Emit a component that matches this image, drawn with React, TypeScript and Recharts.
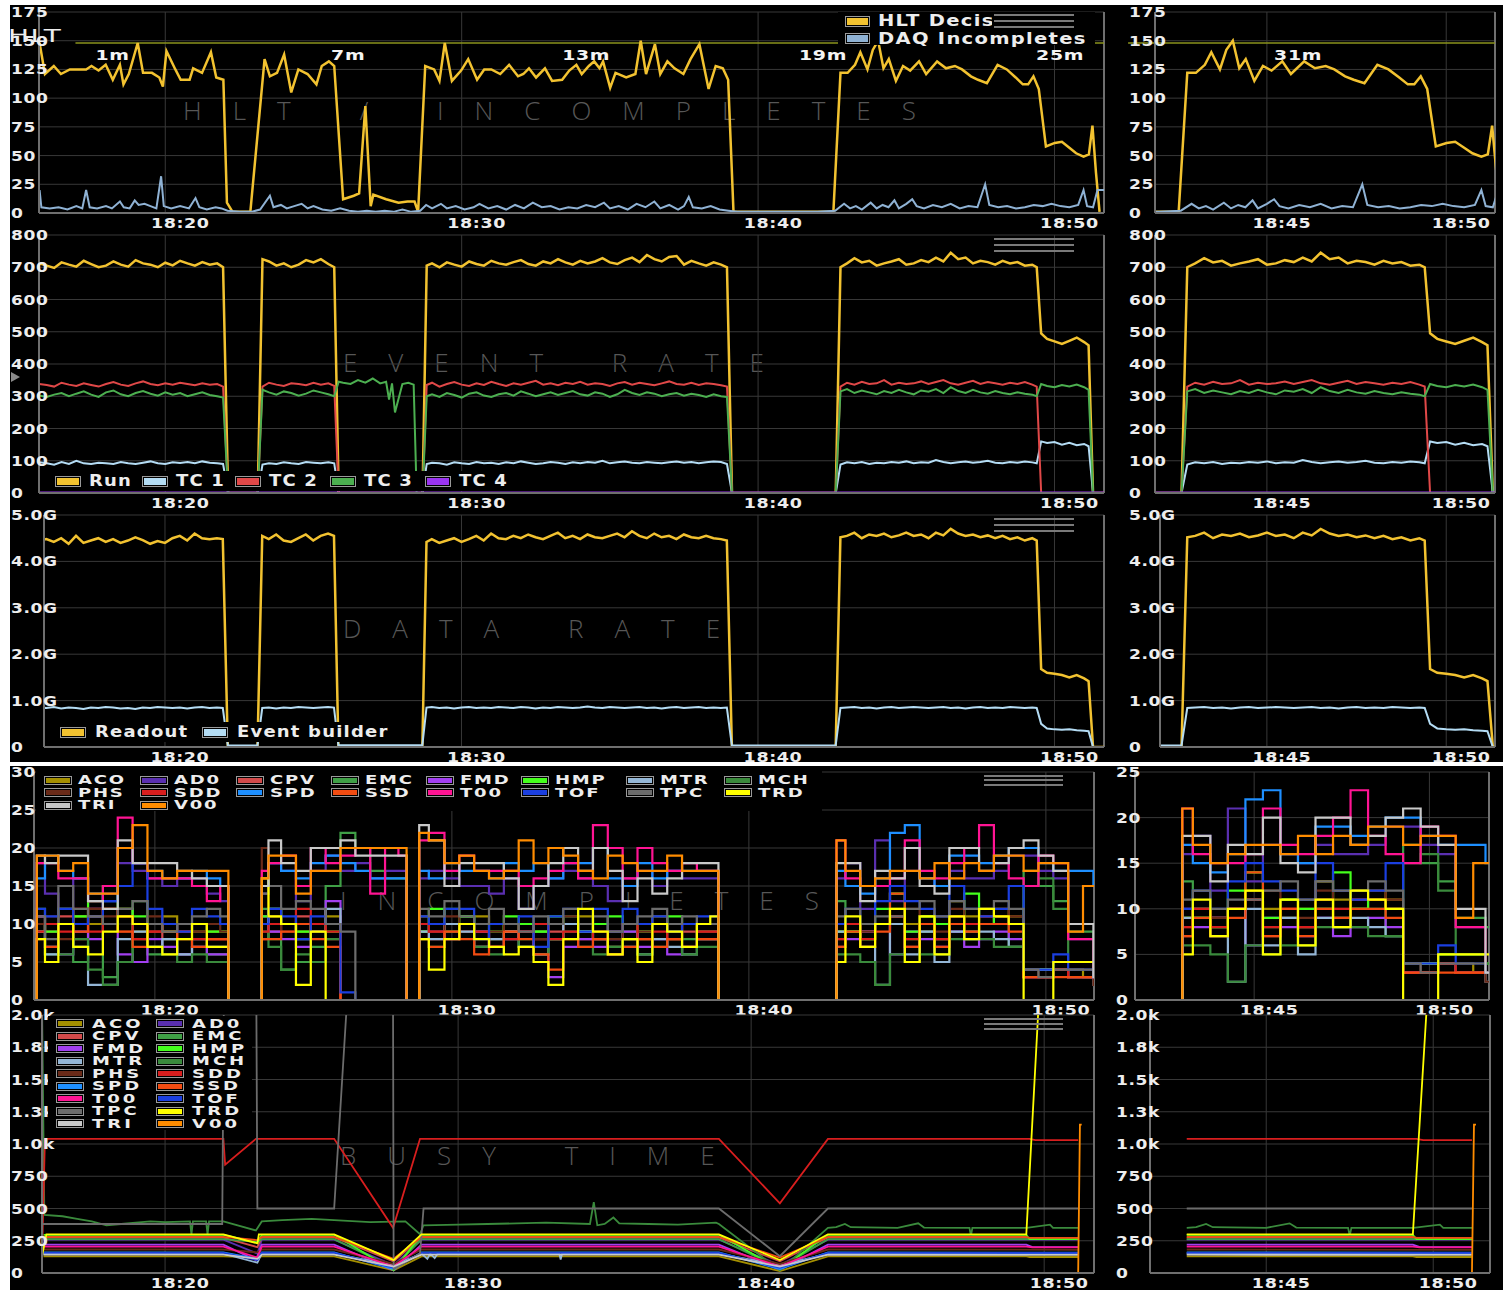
import React from 'react';
import { LineChart, Line, XAxis, YAxis, CartesianGrid, ReferenceLine, ReferenceDot } from 'recharts';

const FONT = '"DejaVu Sans", Verdana, sans-serif';
const TXT = '#ededed';
const GRID = '#383838';
const AXIS = '#6f6f6f';

// ---------------- axis ticks ----------------
const LEFT_TIME_TICKS = [20, 30, 40, 50];
const RIGHT_TIME_TICKS = [45, 50];
const HLT_Y_TICKS = [0, 25, 50, 75, 100, 125, 150, 175];
const EVENT_Y_TICKS = [0, 100, 200, 300, 400, 500, 600, 700, 800];
const DATA_Y_TICKS = [0, 1, 2, 3, 4, 5];
const INC_Y_TICKS_LEFT = [0, 5, 10, 15, 20, 25, 30];
const INC_Y_TICKS_RIGHT = [0, 5, 10, 15, 20, 25];
const BUSY_Y_TICKS = [0, 250, 500, 750, 1000, 1250, 1500, 1750, 2000];
const HLT_THRESHOLD = 148;
const BUSY_RIGHT_START = 42.62;

// ---------------- row 1 : HLT / incompletes (minutes after 18:00, value) ----------------
const HLT_PTS: [number, number][] = [[15.76,148],[15.94,121],[16.24,128],[16.48,121],[16.78,125],[17.33,125],[17.51,128],[17.75,124],[17.99,129],[18.23,116],[18.47,129],[18.59,112],[18.77,121],[19.07,148],[19.25,122],[19.55,122],[19.8,118],[19.92,110],[20.04,141],[20.34,125],[20.52,116],[20.82,116],[20.94,126],[21.24,122],[21.54,140],[21.72,118],[21.96,116],[22.08,9],[22.27,1],[22.87,1],[23.35,134],[23.53,119],[23.77,122],[24.01,138],[24.25,105],[24.49,125],[24.8,121],[25.1,112],[25.28,128],[25.52,132],[25.7,128],[26.0,12],[26.36,15],[26.54,17],[26.75,93],[26.93,6],[27.02,16],[27.45,12],[27.87,9],[28.17,10],[28.41,10],[28.53,1],[28.77,128],[29.07,125],[29.25,115],[29.43,148],[29.67,115],[29.98,124],[30.22,134],[30.52,116],[30.76,125],[31.0,125],[31.3,121],[31.6,129],[31.9,119],[32.08,121],[32.27,126],[32.51,118],[32.81,126],[33.05,115],[33.39,116],[33.63,124],[33.87,129],[34.05,121],[34.29,128],[34.47,132],[34.65,126],[34.77,132],[35.01,109],[35.19,122],[35.55,118],[35.86,121],[36.04,150],[36.22,121],[36.52,147],[36.7,121],[36.94,132],[37.18,126],[37.48,121],[37.72,134],[38.02,147],[38.33,108],[38.57,128],[38.81,126],[38.99,116],[39.17,1],[42.54,1],[42.78,122],[43.02,122],[43.27,129],[43.45,140],[43.69,125],[43.87,142],[44.05,150],[44.23,126],[44.41,134],[44.65,115],[44.89,128],[45.13,124],[45.43,132],[45.67,121],[46.04,132],[46.34,126],[46.64,128],[46.88,125],[47.18,119],[47.42,116],[47.72,113],[48.08,129],[48.39,125],[48.69,118],[48.93,112],[49.11,112],[49.29,119],[49.47,108],[49.71,58],[50.01,61],[50.25,62],[50.49,57],[50.73,52],[50.98,49],[51.16,51],[51.28,76],[51.4,35],[51.52,1]];
const DAQ_PTS: [number, number][] = [[15.76,20],[15.82,5],[16.1,4],[16.4,5],[16.7,3],[17.0,6],[17.2,4],[17.33,20],[17.45,5],[17.7,4],[18.0,6],[18.2,4],[18.47,10],[18.6,5],[18.8,4],[18.97,11],[19.1,7],[19.3,8],[19.5,6],[19.7,4],[19.86,32],[19.95,6],[20.2,4],[20.5,6],[20.8,4],[21.02,13],[21.15,5],[21.4,3],[21.7,5],[21.9,4],[22.1,2],[22.5,1],[22.9,1],[23.2,3],[23.53,15],[23.65,5],[23.9,7],[24.1,4],[24.35,6],[24.6,8],[24.8,4],[25.0,6],[25.3,3],[25.6,2],[25.9,4],[26.2,2],[26.5,1],[26.8,2],[27.1,1],[27.4,2],[27.7,1],[28.0,3],[28.3,1],[28.6,2],[28.8,7],[29.0,4],[29.3,8],[29.5,4],[29.8,6],[30.1,3],[30.4,5],[30.6,8],[30.9,4],[31.2,6],[31.5,3],[31.8,7],[32.1,4],[32.4,9],[32.7,5],[33.0,6],[33.3,3],[33.6,5],[33.9,4],[34.2,7],[34.5,5],[34.8,9],[35.0,4],[35.3,6],[35.6,3],[35.9,8],[36.2,5],[36.5,10],[36.7,4],[37.0,7],[37.3,3],[37.5,6],[37.66,14],[37.8,5],[38.1,4],[38.4,6],[38.7,3],[39.0,2],[39.3,1],[40.0,1],[41.0,1],[42.0,1],[42.6,2],[42.9,8],[43.1,4],[43.3,6],[43.5,3],[43.8,9],[44.0,4],[44.2,7],[44.4,5],[44.6,11],[44.75,4],[45.0,8],[45.2,12],[45.35,6],[45.6,4],[45.9,7],[46.2,5],[46.5,8],[46.8,4],[47.1,6],[47.4,5],[47.66,25],[47.8,7],[48.1,5],[48.4,6],[48.7,4],[49.0,5],[49.3,7],[49.6,6],[49.9,8],[50.2,6],[50.5,5],[50.8,7],[50.98,20],[51.1,6],[51.3,5],[51.45,20],[51.7,20]];
const HLT_MARKS_LEFT_T = [18.22, 26.17, 34.2, 42.19, 50.19];
const HLT_MARKS_LEFT_TEXT = ['1m', '7m', '13m', '19m', '25m'];
const HLT_MARKS_RIGHT_T = [45.87];
const HLT_MARKS_RIGHT_TEXT = ['31m'];
const HLT_MARK_LEVEL = 137;

// ---------------- rows 2 & 3 : event rate / data rate ----------------
const EV_T_A = [15.75,16,16.25,16.5,16.75,17,17.25,17.5,17.75,18,18.25,18.5,18.75,19,19.25,19.5,19.75,20,20.25,20.5,20.75,21,21.25,21.5,21.75,21.95];
const EV_T_G1 = [22.12, 23.12];
const EV_T_B = [23.28,23.5,23.75,24,24.25,24.5,24.75,25,25.25,25.5,25.7];
const EV_T_C = [25.85,26,26.25,26.5,26.75,27,27.25,27.45,27.55,27.65,27.75,28,28.2,28.38];
const EV_T_G2 = [28.48, 28.68];
const EV_T_D = [28.82,29,29.25,29.5,29.75,30,30.25,30.5,30.75,31,31.25,31.5,31.75,32,32.25,32.5,32.75,33,33.25,33.5,33.75,34,34.25,34.5,34.75,35,35.25,35.5,35.75,36,36.25,36.5,36.75,37,37.25,37.5,37.75,38,38.25,38.5,38.75,38.95];
const EV_T_G3 = [39.12, 42.62];
const EV_T_E = [42.78,43,43.25,43.5,43.75,44,44.25,44.5,44.75,45,45.25,45.5,45.75,46,46.25,46.5,46.75,47,47.25,47.5,47.75,48,48.25,48.5,48.75,49,49.25,49.4];
const EV_T_F = [49.55,49.75,50,50.25,50.5,50.75,51,51.15];
const EV_T_G4 = [51.3, 51.67];

const GAP_ZERO = [0, 0];
const ZERO_C = [0,0,0,0,0,0,0,0,0,0,0,0,0,0];
const ZERO_F = [0,0,0,0,0,0,0,0];

const RUN_A = [712,705,698,715,708,702,720,710,700,705,718,708,702,722,712,708,700,714,706,720,712,705,716,708,712,700];
const RUN_B = [725,718,705,712,700,708,722,715,725,710,700];
const RUN_D = [705,712,700,715,708,702,718,710,705,720,712,708,716,722,710,705,718,712,725,715,708,720,712,718,728,715,710,722,730,716,738,725,718,732,735,708,720,712,705,715,708,700];
const RUN_E = [700,712,728,715,720,705,712,718,725,708,712,722,716,730,718,745,725,730,712,720,716,708,720,712,716,705,708,700];
const RUN_F = [495,478,470,462,472,482,468,458];

const TC1_A = [95,92,88,96,90,100,92,90,94,92,90,96,92,90,94,98,92,90,95,93,96,92,98,94,92,90];
const TC1_B = [88,92,90,95,92,90,96,94,92,95,92];
const TC1_D = [90,94,92,88,95,92,90,96,92,94,90,95,92,98,94,90,92,96,94,90,95,92,96,94,100,92,95,98,94,92,96,94,92,95,98,94,96,92,95,98,96,90];
const TC1_E = [88,95,92,96,90,94,92,96,94,98,92,95,94,102,96,92,95,98,94,96,100,94,92,96,94,98,95,92];
const TC1_F = [160,155,158,150,156,148,152,145];

const TC2_A = [338,335,330,342,336,332,340,335,330,338,344,336,332,340,346,338,334,340,336,342,338,334,340,336,338,330];
const TC2_B = [330,342,336,332,340,338,334,342,336,340,332];
const TC2_D = [335,342,330,338,344,336,332,340,335,345,338,332,340,336,342,348,336,340,334,342,338,345,336,340,338,332,340,344,336,342,338,334,340,346,338,336,342,335,340,338,334,330];
const TC2_E = [330,342,336,345,338,340,350,336,342,338,340,346,338,344,350,340,336,342,348,338,344,340,336,342,338,344,336,330];

const TC3_A = [302,298,305,310,300,308,315,305,298,312,318,306,300,310,316,308,302,312,305,310,300,306,312,304,300,296];
const TC3_B = [320,312,305,315,310,302,308,318,312,306,300];
const TC3_C = [345,342,338,350,342,355,340,345,290,340,250,338,342,336];
const TC3_D = [300,306,298,310,304,296,308,312,302,298,306,310,302,315,308,300,306,312,304,310,316,306,302,312,308,298,306,320,310,304,312,308,300,306,310,302,308,304,298,306,300,298];
const TC3_E = [315,322,310,318,312,306,316,310,320,312,306,318,314,322,310,328,316,310,320,312,308,316,310,306,312,308,305,300];
const TC3_F = [338,332,328,335,330,336,328,320];
const TC4_PTS: [number, number][] = [[15.5, 0], [51.8, 0]];

const RO_A = [4.45,4.48,4.42,4.5,4.38,4.55,4.4,4.45,4.5,4.42,4.48,4.4,4.45,4.52,4.46,4.38,4.44,4.4,4.5,4.55,4.45,4.6,4.5,4.48,4.5,4.48];
const RO_B = [4.55,4.48,4.58,4.45,4.42,4.5,4.58,4.45,4.55,4.6,4.55];
const RO_D = [4.42,4.48,4.4,4.45,4.5,4.42,4.48,4.55,4.45,4.6,4.5,4.48,4.55,4.5,4.58,4.52,4.48,4.55,4.62,4.5,4.55,4.48,4.58,4.52,4.5,4.55,4.6,4.52,4.65,4.55,4.5,4.6,4.52,4.55,4.48,4.58,4.52,4.5,4.55,4.5,4.48,4.45];
const RO_E = [4.52,4.55,4.62,4.5,4.58,4.55,4.6,4.52,4.56,4.62,4.55,4.58,4.5,4.62,4.56,4.7,4.6,4.55,4.58,4.52,4.56,4.5,4.55,4.48,4.52,4.45,4.5,4.45];
const RO_F = [1.68,1.6,1.58,1.55,1.5,1.55,1.48,1.42];

const EB_A = [0.85,0.84,0.86,0.83,0.85,0.84,0.82,0.85,0.84,0.86,0.85,0.83,0.84,0.82,0.85,0.84,0.86,0.85,0.84,0.85,0.83,0.85,0.86,0.84,0.85,0.84];
const EB_G1 = [0.03, 0.03];
const EB_B = [0.84,0.85,0.83,0.85,0.84,0.86,0.85,0.84,0.85,0.86,0.85];
const EB_C = [0.04,0.04,0.04,0.04,0.04,0.04,0.04,0.04,0.04,0.04,0.04,0.04,0.04,0.04];
const EB_G2 = [0.04, 0.04];
const EB_D = [0.85,0.86,0.84,0.85,0.83,0.85,0.86,0.84,0.85,0.84,0.86,0.85,0.84,0.86,0.85,0.83,0.85,0.84,0.86,0.85,0.84,0.85,0.87,0.85,0.84,0.86,0.85,0.84,0.85,0.86,0.84,0.85,0.83,0.85,0.86,0.84,0.85,0.86,0.84,0.85,0.84,0.85];
const EB_G3 = [0.03, 0.03];
const EB_E = [0.84,0.85,0.86,0.84,0.85,0.83,0.85,0.86,0.84,0.85,0.86,0.85,0.84,0.85,0.86,0.84,0.85,0.83,0.85,0.86,0.84,0.85,0.84,0.86,0.85,0.84,0.85,0.84];
const EB_F = [0.5,0.4,0.38,0.37,0.38,0.36,0.35,0.34];

// ---------------- detectors (rows 4 & 5) ----------------
const DET_NAMES = ['ACO','AD0','CPV','EMC','FMD','HMP','MTR','MCH','PHS','SDD','SPD','SSD','T00','TOF','TPC','TRD','TRI','V00'];
const DET_COLORS = ['#a48f00','#5a2fb0','#d24a4a','#3f9f46','#a23ff0','#44ff1c','#94b6d6','#3a8a3c','#6a2a18','#d81e1e','#1e8fff','#f24c12','#ff1493','#1b3fe0','#6c6c6c','#ffff00','#c9c9c9','#ff8c00'];

// row 4 : incompletes
const INC_T = [15.95, 16.1,16.5,17,17.5,18,18.5,19,19.5,20,20.5,21,21.5,22,22.4, 22.55,23.55, 23.65,24,24.5,25,25.5,26,26.5,27,27.5,28,28.4, 28.55,28.85, 28.95,29.5,30,30.5,31,31.5,32,32.5,33,33.5,34,34.5,35,35.5,36,36.5,37,37.5,38,38.5,38.9, 39.05,42.9, 43,43.5,44,44.5,45,45.5,46,46.5,47,47.5,48,48.5,49,49.5,50,50.5,51,51.5,51.7];
const INC_ACO = [0, 9,10,12,11,10,12,11,9,10,11,10,9,9,9, 0,0, 10,11,10,9,10,11,0,0,0,0,0, 0,0, 11,10,9,10,11,10,9,10,9,8,10,11,10,9,8,10,11,9,10,10,10, 0,0, 9,10,9,10,12,10,11,10,13,11,12,12,11,4,4,4,4,3,3];
const INC_AD0 = [0, 18,14,12,16,12,14,18,17,16,15,16,16,14,13, 0,0, 14,18,17,13,17,19,17,18,16,17,17, 0,0, 16,17,16,15,15,14,16,12,15,16,17,16,15,13,16,17,15,17,16,16,16, 0,0, 16,18,12,21,13,17,16,15,17,16,16,17,19,19,17,16,8,8,8];
const INC_CPV = [0, 11,9,11,8,12,10,12,10,9,8,9,10,8,8, 0,0, 8,9,10,11,9,8,0,0,0,0,0, 0,0, 9,8,10,9,7,8,9,10,8,9,10,8,9,7,8,9,10,8,9,8,8, 0,0, 7,9,9,10,11,7,9,8,10,9,10,11,10,3,3,4,3,3,3];
const INC_EMC = [0, 12,6,12,5,11,3,5,13,6,8,6,7,6,6, 0,0, 12,8,4,5,7,15,22,20,17,16,16, 0,0, 9,10,12,11,9,8,10,8,9,10,11,9,8,7,9,8,10,9,8,10,10, 0,0, 13,9,8,10,11,8,9,8,11,9,10,10,7,17,15,13,9,9,8];
const INC_FMD = [0, 11,7,6,9,8,10,6,5,8,7,6,7,6,6, 0,0, 11,9,8,7,9,13,0,0,0,0,0, 0,0, 10,9,8,10,9,7,8,9,6,3,7,8,7,8,9,7,8,6,7,9,9, 0,0, 10,8,9,10,6,9,8,7,9,7,8,9,8,3,3,4,3,3,3];
const INC_HMP = [0, 10,9,10,11,13,15,12,11,10,9,10,10,9,9, 0,0, 11,12,10,9,10,9,0,0,0,0,0, 0,0, 9,12,10,11,10,9,11,10,9,11,10,9,10,11,10,9,10,11,10,9,9, 0,0, 9,9,8,12,14,9,11,10,10,14,10,11,10,4,4,5,5,5,4];
const INC_MTR = [0, 9,6,10,7,2,2,8,9,7,8,6,8,7,7, 0,0, 10,12,10,8,9,12,0,0,0,0,0, 0,0, 9,8,10,9,7,8,9,7,6,8,10,9,8,6,7,6,8,7,6,8,8, 0,0, 9,10,7,2,10,6,9,5,9,8,9,8,7,4,4,4,3,3,2];
const INC_MCH = [0, 10,7,6,8,4,2,5,8,7,6,5,6,5,5, 0,0, 9,7,4,6,5,8,0,0,0,0,0, 0,0, 8,7,9,10,7,6,8,7,6,8,9,7,6,7,8,6,7,8,6,7,7, 0,0, 6,6,5,2,6,5,6,6,8,8,8,7,7,15,16,12,5,5,4];
const INC_PHS = [0, 10,11,8,10,12,11,9,8,11,10,9,9,10,9, 0,0, 20,11,9,10,9,10,0,0,0,0,0, 0,0, 10,9,11,10,8,9,10,9,8,10,11,10,9,8,10,9,10,9,10,9,9, 0,0, 8,10,9,10,11,12,10,9,12,10,11,12,11,4,3,4,3,3,2];
const INC_SDD = [0, 9,10,9,12,9,12,11,8,9,10,9,8,8,8, 0,0, 9,10,10,12,10,9,0,0,0,0,0, 0,0, 10,9,8,10,9,7,8,9,10,8,9,10,8,9,10,8,9,8,10,9,9, 0,0, 8,10,8,10,11,8,10,8,11,10,11,11,10,3,3,4,3,3,3];
const INC_SPD = [0, 16,19,17,16,14,13,20,18,17,16,16,17,16,15, 0,0, 15,18,17,16,18,19,18,17,16,16,16, 0,0, 17,16,18,17,17,16,18,17,18,16,18,18,20,16,15,18,16,17,17,17,17, 0,0, 17,15,14,16,22,23,16,15,19,19,18,19,20,20,18,17,17,17,15];
const INC_SSD = [0, 8,7,10,9,11,10,9,7,10,9,8,7,8,8, 0,0, 8,8,9,10,8,7,0,0,0,0,0, 0,0, 8,7,9,8,6,7,9,8,6,4,8,7,8,6,7,8,7,8,7,8,8, 0,0, 7,9,7,9,14,7,10,7,10,9,10,10,9,3,3,3,3,3,3];
const INC_T00 = [0, 18,18,16,16,13,15,24,18,16,16,16,15,13,15, 0,0, 17,18,19,15,20,18,19,20,14,20,19, 0,0, 21,22,17,19,17,17,17,15,16,17,18,16,23,20,16,20,18,17,18,17,17, 0,0, 21,16,15,15,16,21,17,16,18,20,23,18,16,15,19,18,8,8,3];
const INC_TOF = [0, 12,11,12,10,11,13,15,18,12,10,9,12,11,10, 0,0, 10,12,11,8,11,10,1,0,0,0,0, 0,0, 11,10,12,12,8,10,10,11,7,11,12,9,12,9,12,10,11,9,10,11,11, 0,0, 10,12,10,13,15,13,12,11,15,12,11,12,15,4,4,6,4,4,3];
const INC_TPC = [0, 11,8,15,12,11,10,12,13,10,9,10,11,12,11, 0,0, 14,15,12,13,12,10,9,0,0,0,0, 0,0, 12,11,13,11,10,12,10,9,11,10,12,10,11,9,10,11,12,10,11,10,10, 0,0, 11,12,10,11,11,12,13,11,13,12,12,13,12,4,3,4,4,4,3];
const INC_TRD = [0, 8,5,10,7,6,9,11,10,7,6,8,10,7,7, 0,0, 16,11,10,2,9,0,0,0,0,0,0, 0,0, 8,4,8,10,8,7,6,7,5,2,8,12,9,6,8,5,10,9,7,10,11, 0,0, 5,11,7,10,12,5,11,6,11,8,12,11,10,0,0,5,5,5,5];
const INC_TRI = [0, 19,18,19,19,13,12,21,18,18,18,17,16,15,15, 0,0, 15,21,18,17,20,20,21,19,19,19,19, 0,0, 23,21,15,18,18,18,16,12,15,18,20,17,20,17,13,16,14,16,18,18,18, 0,0, 18,18,13,17,16,20,15,14,20,20,17,18,20,21,19,17,10,10,3];
const INC_V00 = [0, 19,19,17,18,14,14,20,23,17,16,17,17,17,17, 0,0, 16,19,19,14,17,17,20,20,20,20,20, 0,0, 22,21,18,19,17,16,17,21,18,20,19,17,16,19,18,17,17,19,17,17,17, 0,0, 21,17,15,16,17,17,16,18,16,18,17,19,19,17,18,18,9,15,15];
const INC_SERIES = [INC_ACO, INC_AD0, INC_CPV, INC_EMC, INC_FMD, INC_HMP, INC_MTR, INC_MCH, INC_PHS, INC_SDD, INC_SPD, INC_SSD, INC_T00, INC_TOF, INC_TPC, INC_TRD, INC_TRI, INC_V00];

// row 5 : busy time (minutes after 18:00, value)
const BUSY_ACO: [number, number][] = [[15.85,129],[21.99,129],[23.15,120],[23.3,129],[25.77,129],[27.8,20],[28.75,129],[38.9,129],[40.98,15],[42.62,129],[49.39,129],[49.5,124],[51.16,124]];
const BUSY_AD0: [number, number][] = [[15.85,258],[21.99,258],[23.15,150],[23.3,258],[25.77,258],[27.8,60],[28.75,258],[38.9,258],[40.98,60],[42.62,258],[51.16,258]];
const BUSY_CPV: [number, number][] = [[15.85,275],[21.99,275],[23.15,200],[23.3,275],[25.77,275],[27.8,90],[28.75,275],[38.9,275],[40.98,90],[42.62,275],[51.16,272]];
const BUSY_EMC: [number, number][] = [[15.85,262],[21.99,262],[23.15,240],[23.3,262],[25.77,262],[27.8,40],[28.75,262],[38.9,262],[40.98,40],[42.62,262],[51.16,262]];
const BUSY_FMD: [number, number][] = [[15.85,220],[21.99,220],[23.1,100],[23.3,220],[25.77,220],[27.8,20],[28.75,220],[38.9,220],[40.98,25],[42.62,220],[49.39,220],[49.6,200],[51.16,200]];
const BUSY_HMP: [number, number][] = [[15.85,296],[21.99,296],[23.15,235],[23.3,296],[25.77,296],[27.8,20],[28.75,296],[38.9,296],[40.98,30],[42.62,296],[49.39,296],[49.5,262],[51.16,262]];
const BUSY_MTR: [number, number][] = [[15.85,150],[21.99,150],[23.15,80],[23.3,150],[25.77,150],[27.8,60],[28.75,150],[28.95,110],[29.05,150],[29.2,115],[29.3,150],[33.45,150],[33.5,105],[33.55,150],[38.9,150],[40.98,60],[42.62,150],[51.16,148]];
const BUSY_MCH: [number, number][] = [[15.8,2100],[15.88,450],[16.5,440],[17.0,420],[17.5,400],[18.0,370],[18.5,380],[19.0,390],[19.5,400],[20.0,395],[20.85,400],[20.9,300],[20.95,400],[21.4,400],[21.45,300],[21.5,400],[21.99,400],[23.1,330],[23.3,400],[24.0,410],[25.0,420],[25.77,410],[27.0,395],[28.2,400],[28.7,300],[28.82,370],[30,375],[31,380],[32,385],[33,390],[34.5,380],[34.63,550],[34.75,370],[35.0,380],[35.3,430],[35.5,385],[36.5,380],[37.5,375],[38.8,390],[38.9,380],[40.98,20],[42.62,350],[42.9,355],[43.2,380],[43.4,355],[45,350],[45.7,385],[45.9,352],[47.45,350],[47.5,290],[47.55,350],[48.5,350],[49.4,350],[50.2,375],[50.3,350],[51.16,350]];
const BUSY_PHS: [number, number][] = [[15.85,182],[21.99,182],[23.15,160],[23.3,182],[25.77,182],[27.8,70],[28.75,182],[38.9,182],[40.98,70],[42.62,182],[51.16,180]];
const BUSY_SDD: [number, number][] = [[15.8,120],[15.9,1040],[21.99,1040],[22.05,840],[23.1,1040],[25.77,1040],[27.78,350],[28.7,1040],[38.9,1040],[40.98,540],[42.62,1040],[49.5,1040],[49.7,1030],[51.16,1030]];
const BUSY_SPD: [number, number][] = [[15.85,160],[21.99,160],[23.15,110],[23.3,160],[25.77,160],[27.8,30],[28.75,160],[38.9,160],[40.98,30],[42.62,160],[51.16,158]];
const BUSY_SSD: [number, number][] = [[15.85,280],[21.99,280],[23.15,255],[23.3,280],[25.77,280],[27.8,110],[28.75,280],[38.9,280],[40.98,120],[42.62,280],[49.39,280],[49.5,272],[51.16,272]];
const BUSY_T00: [number, number][] = [[15.85,205],[21.99,205],[23.15,120],[23.3,205],[25.77,205],[27.8,50],[28.75,205],[38.9,205],[40.98,50],[42.62,205],[49.39,205],[49.6,198],[51.16,198]];
const BUSY_TOF: [number, number][] = [[15.85,156],[21.99,156],[23.15,100],[23.3,156],[25.77,156],[27.8,40],[28.75,156],[38.9,156],[40.98,40],[42.62,156],[51.16,156]];
const BUSY_TPC: [number, number][] = [[15.8,380],[21.95,380],[22.1,5000],[23.05,5000],[23.15,500],[25.77,500],[27.0,5000],[27.75,5000],[27.8,30],[28.7,150],[28.82,500],[38.9,500],[40.98,130],[42.62,500],[51.16,500]];
const BUSY_TRD: [number, number][] = [[15.8,130],[15.95,300],[21.99,300],[23.15,230],[23.2,300],[25.77,300],[27.8,100],[28.75,300],[38.9,300],[40.98,100],[42.62,300],[49.39,300],[50.5,5000]];
const BUSY_TRI: [number, number][] = [[15.85,142],[21.99,142],[23.15,110],[23.3,142],[25.77,142],[27.8,50],[28.75,142],[38.9,142],[40.98,50],[42.62,142],[51.16,140]];
const BUSY_V00: [number, number][] = [[15.8,0],[51.16,0],[51.22,1150],[51.28,1150]];
const BUSY_SERIES = [BUSY_ACO, BUSY_AD0, BUSY_CPV, BUSY_EMC, BUSY_FMD, BUSY_HMP, BUSY_MTR, BUSY_MCH, BUSY_PHS, BUSY_SDD, BUSY_SPD, BUSY_SSD, BUSY_T00, BUSY_TOF, BUSY_TPC, BUSY_TRD, BUSY_TRI, BUSY_V00];

// ---------------- colours ----------------
const C_YELLOW = '#f2c230';
const C_DAQ = '#8fb2d4';
const C_TC1 = '#b4dcf4';
const C_TC2 = '#e04848';
const C_TC3 = '#4caf50';
const C_TC4 = '#9a34f0';

// ---------------- table builders ----------------
const toPts = (arr: [number, number][]) => arr.map(([t, v]) => ({ t, v }));

function buildEventTable() {
  const rows: Record<string, number>[] = [];
  const add = (ts: number[], run: number[], tc1: number[], tc2: number[], tc3: number[], ro: number[], eb: number[]) => {
    ts.forEach((t, i) => rows.push({ t, run: run[i], tc1: tc1[i], tc2: tc2[i], tc3: tc3[i], ro: ro[i], eb: eb[i] }));
  };
  add(EV_T_A, RUN_A, TC1_A, TC2_A, TC3_A, RO_A, EB_A);
  add(EV_T_G1, GAP_ZERO, GAP_ZERO, GAP_ZERO, GAP_ZERO, GAP_ZERO, EB_G1);
  add(EV_T_B, RUN_B, TC1_B, TC2_B, TC3_B, RO_B, EB_B);
  add(EV_T_C, ZERO_C, ZERO_C, ZERO_C, TC3_C, ZERO_C, EB_C);
  add(EV_T_G2, GAP_ZERO, GAP_ZERO, GAP_ZERO, GAP_ZERO, GAP_ZERO, EB_G2);
  add(EV_T_D, RUN_D, TC1_D, TC2_D, TC3_D, RO_D, EB_D);
  add(EV_T_G3, GAP_ZERO, GAP_ZERO, GAP_ZERO, GAP_ZERO, GAP_ZERO, EB_G3);
  add(EV_T_E, RUN_E, TC1_E, TC2_E, TC3_E, RO_E, EB_E);
  add(EV_T_F, RUN_F, TC1_F, ZERO_F, TC3_F, RO_F, EB_F);
  add(EV_T_G4, GAP_ZERO, GAP_ZERO, GAP_ZERO, GAP_ZERO, GAP_ZERO, GAP_ZERO);
  return rows;
}
const EV_TABLE = buildEventTable();
const INC_TABLE = INC_T.map((t, i) => {
  const r: Record<string, number> = { t };
  DET_NAMES.forEach((n, k) => { r[n] = INC_SERIES[k][i]; });
  return r;
});
const HLT_DATA = toPts(HLT_PTS);
const DAQ_DATA = toPts(DAQ_PTS);
const TC4_DATA = toPts(TC4_PTS);
const BUSY_DATA = BUSY_SERIES.map(toPts);
// the right-hand busy panel only shows the current run (V00 baseline kept whole)
const BUSY_DATA_RIGHT = BUSY_DATA.map((d, k) => (DET_NAMES[k] === 'V00' ? d : d.filter((p) => p.t >= BUSY_RIGHT_START)));

// ---------------- helpers ----------------
const fmtTime = (t: number) => `18:${String(t).padStart(2, '0')}`;
const fmtPlain = (v: number) => String(v);
const fmtG = (v: number) => (v === 0 ? '0' : `${v.toFixed(1)}G`);
const fmtK = (v: number) => (v < 1000 ? String(v) : `${(v / 1000).toFixed(1)}k`);

const XTick = (props: any) => {
  const { x, y, payload } = props;
  return (
    <text transform={`translate(${x + 15},${y + 8}) scale(1.25,1)`} textAnchor="middle" dominantBaseline="central"
      fill={TXT} fontSize={14} fontWeight="bold" fontFamily={FONT} letterSpacing={0.5}>{fmtTime(payload.value)}</text>
  );
};

const MT = 9, MR = 3, XH = 22;

type PanelProps = {
  labelLeft: number; plotLeft: number; plotRight: number; plotTop: number; plotBottom: number;
  xDomain: [number, number]; xTicks: number[];
  yDomain: [number, number]; yTicks: number[]; yFmt: (v: number) => string;
  data?: any[];
  children?: React.ReactNode;
};

function Panel(p: PanelProps) {
  const yw = p.plotLeft - p.labelLeft;
  const width = p.plotRight - p.labelLeft + MR;
  const height = p.plotBottom - p.plotTop + MT + XH;
  const YTick = (props: any) => (
    <text transform={`translate(1,${props.y}) scale(1.22,1)`} dy={5} textAnchor="start"
      fill={TXT} fontSize={14} fontWeight="bold" fontFamily={FONT} letterSpacing={0.5}>{p.yFmt(props.payload.value)}</text>
  );
  return (
    <div style={{ position: 'absolute', left: p.labelLeft, top: p.plotTop - MT, width, height }}>
      <LineChart width={width} height={height} data={p.data} margin={{ top: MT, right: MR, bottom: 0, left: 0 }}>
        <CartesianGrid stroke={GRID} strokeWidth={1} />
        <XAxis dataKey="t" type="number" domain={p.xDomain} ticks={p.xTicks} allowDataOverflow interval={0}
          height={XH} tickSize={0} tickLine={false} axisLine={{ stroke: AXIS, strokeWidth: 2 }} tick={XTick} />
        <YAxis type="number" domain={p.yDomain} ticks={p.yTicks} allowDataOverflow interval={0}
          width={yw} tickSize={0} tickLine={false} axisLine={{ stroke: AXIS, strokeWidth: 2 }} tick={YTick} />
        <ReferenceLine x={p.xDomain[1]} stroke={AXIS} strokeWidth={2} />
        {p.children}
      </LineChart>
    </div>
  );
}

const markLabel = (text: string) => (props: any) => {
  const vb = props.viewBox || {};
  const cx = (vb.x ?? 0) + (vb.width ?? 0) / 2;
  const cy = (vb.y ?? 0) + (vb.height ?? 0) / 2;
  return (
    <text transform={`translate(${cx},${cy}) scale(1.35,1)`} textAnchor="middle" dominantBaseline="central"
      fill="#f4f4f4" fontSize={14} fontWeight="bold" fontFamily={FONT} letterSpacing={0.5}>{text}</text>
  );
};

function Watermark({ x, y, text }: { x: number; y: number; text: string }) {
  return (
    <div style={{ position: 'absolute', left: x, top: y, transform: 'translateY(-50%)', color: '#575757',
      fontFamily: '"Open Sans", sans-serif', fontWeight: 300, fontSize: 26, letterSpacing: 31, whiteSpace: 'nowrap', lineHeight: 1 }}>{text}</div>
  );
}

function Swatch({ x, y, color, w, h }: { x: number; y: number; color: string; w: number; h: number }) {
  return (
    <div style={{ position: 'absolute', left: x, top: y - h / 2, width: w, height: h, border: '1px solid #9a9a9a',
      padding: 1, background: '#000', boxSizing: 'border-box' }}>
      <div style={{ width: '100%', height: '100%', background: color }} />
    </div>
  );
}

function LText({ x, y, text, size, scale, ls, bold = true }: { x: number; y: number; text: string; size: number; scale: number; ls: number; bold?: boolean }) {
  return (
    <div style={{ position: 'absolute', left: x, top: y, transform: `translateY(-50%) scaleX(${scale})`, transformOrigin: 'left center',
      color: TXT, fontFamily: FONT, fontWeight: bold ? 'bold' : 'normal', fontSize: size, letterSpacing: ls, whiteSpace: 'nowrap', lineHeight: 1 }}>{text}</div>
  );
}

function Box({ x, y, w, h }: { x: number; y: number; w: number; h: number }) {
  return <div style={{ position: 'absolute', left: x, top: y, width: w, height: h, background: '#000' }} />;
}

function Hamburger({ x, y, w, gap, bgHeight }: { x: number; y: number; w: number; gap: number; bgHeight?: number }) {
  return (
    <div style={{ position: 'absolute', left: x - 2, top: y - 2, width: w + 4, height: bgHeight ?? gap * 2 + 6, background: bgHeight ? '#000' : 'transparent' }}>
      {[0, 1, 2].map((i) => (
        <div key={i} style={{ position: 'absolute', left: 2, top: 2 + i * gap - 1, width: w, height: 2, background: '#7a7a7a' }} />
      ))}
    </div>
  );
}

const lineCommon = { dot: false, isAnimationActive: false, type: 'linear' as const, activeDot: false };

// ---------------- legends ----------------
const EV_LEGEND_NAMES = ['Run', 'TC 1', 'TC 2', 'TC 3', 'TC 4'];
const EV_LEGEND_COLORS = [C_YELLOW, C_TC1, C_TC2, C_TC3, C_TC4];
const EV_LEGEND_X = [55, 142, 235, 330, 425];
const DR_LEGEND_NAMES = ['Readout', 'Event builder'];
const DR_LEGEND_COLORS = [C_YELLOW, C_TC1];
const DR_LEGEND_X = [60, 202];
const INC_LEGEND_COLS = [44, 140, 236, 331, 426, 521, 626, 724];

export default function App() {
  const hltChildren = (marksT: number[], marksText: string[], seg: [number, number]) => [
    <ReferenceLine key="thr" segment={[{ x: seg[0], y: HLT_THRESHOLD }, { x: seg[1], y: HLT_THRESHOLD }]} stroke="#8b931c" strokeWidth={1.5} ifOverflow="visible" />,
    <Line key="hlt" data={HLT_DATA} dataKey="v" stroke={C_YELLOW} strokeWidth={2.5} {...lineCommon} />,
    <Line key="daq" data={DAQ_DATA} dataKey="v" stroke={C_DAQ} strokeWidth={2} {...lineCommon} />,
    ...marksT.map((t, i) => (
      <ReferenceDot key={`m${i}`} x={t} y={HLT_MARK_LEVEL} r={1} fill="transparent" stroke="none" ifOverflow="visible" label={markLabel(marksText[i])} />
    )),
  ];
  const evChildren = () => [
    <Line key="run" dataKey="run" stroke={C_YELLOW} strokeWidth={2.5} {...lineCommon} />,
    <Line key="tc1" dataKey="tc1" stroke={C_TC1} strokeWidth={2} {...lineCommon} />,
    <Line key="tc2" dataKey="tc2" stroke={C_TC2} strokeWidth={2} {...lineCommon} />,
    <Line key="tc3" dataKey="tc3" stroke={C_TC3} strokeWidth={2} {...lineCommon} />,
    <Line key="tc4" data={TC4_DATA} dataKey="v" stroke={C_TC4} strokeWidth={3} {...lineCommon} />,
  ];
  const drChildren = () => [
    <Line key="ro" dataKey="ro" stroke={C_YELLOW} strokeWidth={2.5} {...lineCommon} />,
    <Line key="eb" dataKey="eb" stroke={C_TC1} strokeWidth={2} {...lineCommon} />,
  ];
  const incChildren = () => DET_NAMES.map((n, k) => (
    <Line key={n} dataKey={n} stroke={DET_COLORS[k]} strokeWidth={2.2} dot={false} isAnimationActive={false} activeDot={false} type="step" />
  ));
  const busyChildren = (sets: { t: number; v: number }[][]) => DET_NAMES.map((n, k) => (
    <Line key={n} data={sets[k]} dataKey="v" stroke={DET_COLORS[k]} strokeWidth={1.8} {...lineCommon} />
  ));

  return (
    <div style={{ position: 'absolute', left: 0, top: 0, width: 1503, height: 1291, background: '#fff', overflow: 'hidden', fontFamily: FONT }}>
      <div style={{ position: 'absolute', left: 10, top: 5, width: 1493, height: 757, background: '#000' }} />
      <div style={{ position: 'absolute', left: 10, top: 766, width: 1493, height: 524, background: '#000' }} />

      <Watermark x={183} y={110} text="HLT / INCOMPLETES" />
      <Watermark x={343} y={362} text="EVENT RATE" />
      <Watermark x={343} y={628} text="DATA RATE" />
      <Watermark x={340} y={900} text="INCOMPLETES" />
      <Watermark x={340} y={1155} text="BUSY TIME" />

      {/* row 1 */}
      <Panel labelLeft={10} plotLeft={39} plotRight={1104} plotTop={12} plotBottom={213} xDomain={[15.74, 51.67]} xTicks={LEFT_TIME_TICKS}
        yDomain={[0, 175]} yTicks={HLT_Y_TICKS} yFmt={fmtPlain}>
        {hltChildren(HLT_MARKS_LEFT_T, HLT_MARKS_LEFT_TEXT, [16.97, 51.67])}
      </Panel>
      <Panel labelLeft={1128} plotLeft={1155} plotRight={1495} plotTop={12} plotBottom={213} xDomain={[41.88, 51.36]} xTicks={RIGHT_TIME_TICKS}
        yDomain={[0, 175]} yTicks={HLT_Y_TICKS} yFmt={fmtPlain}>
        {hltChildren(HLT_MARKS_RIGHT_T, HLT_MARKS_RIGHT_TEXT, [41.13, 51.36])}
      </Panel>

      {/* row 2 */}
      <Panel labelLeft={10} plotLeft={39} plotRight={1104} plotTop={235} plotBottom={493} xDomain={[15.74, 51.67]} xTicks={LEFT_TIME_TICKS}
        yDomain={[0, 800]} yTicks={EVENT_Y_TICKS} yFmt={fmtPlain} data={EV_TABLE}>
        {evChildren()}
      </Panel>
      <Panel labelLeft={1128} plotLeft={1155} plotRight={1495} plotTop={235} plotBottom={493} xDomain={[41.88, 51.36]} xTicks={RIGHT_TIME_TICKS}
        yDomain={[0, 800]} yTicks={EVENT_Y_TICKS} yFmt={fmtPlain} data={EV_TABLE}>
        {evChildren()}
      </Panel>

      {/* row 3 */}
      <Panel labelLeft={10} plotLeft={44} plotRight={1104} plotTop={515} plotBottom={747} xDomain={[15.92, 51.67]} xTicks={LEFT_TIME_TICKS}
        yDomain={[0, 5]} yTicks={DATA_Y_TICKS} yFmt={fmtG} data={EV_TABLE}>
        {drChildren()}
      </Panel>
      <Panel labelLeft={1128} plotLeft={1160} plotRight={1495} plotTop={515} plotBottom={747} xDomain={[42.02, 51.36]} xTicks={RIGHT_TIME_TICKS}
        yDomain={[0, 5]} yTicks={DATA_Y_TICKS} yFmt={fmtG} data={EV_TABLE}>
        {drChildren()}
      </Panel>

      {/* row 4 */}
      <Panel labelLeft={10} plotLeft={34} plotRight={1094} plotTop={772} plotBottom={1000} xDomain={[15.93, 51.62]} xTicks={LEFT_TIME_TICKS}
        yDomain={[0, 30]} yTicks={INC_Y_TICKS_LEFT} yFmt={fmtPlain} data={INC_TABLE}>
        {incChildren()}
      </Panel>
      <Panel labelLeft={1115} plotLeft={1135} plotRight={1489} plotTop={772} plotBottom={1000} xDomain={[41.6, 51.7]} xTicks={RIGHT_TIME_TICKS}
        yDomain={[0, 25]} yTicks={INC_Y_TICKS_RIGHT} yFmt={fmtPlain} data={INC_TABLE}>
        {incChildren()}
      </Panel>

      {/* row 5 */}
      <Panel labelLeft={10} plotLeft={42} plotRight={1094} plotTop={1015} plotBottom={1273} xDomain={[15.8, 51.7]} xTicks={LEFT_TIME_TICKS}
        yDomain={[0, 2000]} yTicks={BUSY_Y_TICKS} yFmt={fmtK}>
        {busyChildren(BUSY_DATA)}
      </Panel>
      <Panel labelLeft={1115} plotLeft={1150} plotRight={1490} plotTop={1015} plotBottom={1273} xDomain={[41.52, 51.7]} xTicks={RIGHT_TIME_TICKS}
        yDomain={[0, 2000]} yTicks={BUSY_Y_TICKS} yFmt={fmtK}>
        {busyChildren(BUSY_DATA_RIGHT)}
      </Panel>

      {/* titles / legends */}
      <LText x={8} y={36} text="HLT" size={18} scale={1.55} ls={1} bold={false} />

      <Box x={838} y={12} w={257} h={33} />
      <Swatch x={845} y={21} color={C_YELLOW} w={25} h={11} />
      <LText x={878} y={21} text="HLT Decisions" size={15} scale={1.3} ls={1} />
      <Swatch x={845} y={38} color={C_DAQ} w={25} h={11} />
      <LText x={878} y={38.5} text="DAQ Incompletes" size={15} scale={1.3} ls={1} />
      <Hamburger x={994} y={15} w={80} gap={6} bgHeight={16} />

      <Box x={48} y={471} w={468} h={20} />
      {EV_LEGEND_NAMES.map((n, i) => (
        <React.Fragment key={n}>
          <Swatch x={EV_LEGEND_X[i]} y={481} color={EV_LEGEND_COLORS[i]} w={26} h={11} />
          <LText x={EV_LEGEND_X[i] + 34} y={481} text={n} size={15} scale={1.2} ls={1} />
        </React.Fragment>
      ))}
      <Hamburger x={994} y={239} w={80} gap={6} />
      <div style={{ position: 'absolute', left: 11, top: 372, width: 0, height: 0, borderLeft: '9px solid #8a8a8a', borderTop: '5px solid transparent', borderBottom: '5px solid transparent' }} />

      <Box x={55} y={722} w={340} h={20} />
      {DR_LEGEND_NAMES.map((n, i) => (
        <React.Fragment key={n}>
          <Swatch x={DR_LEGEND_X[i]} y={732} color={DR_LEGEND_COLORS[i]} w={26} h={11} />
          <LText x={DR_LEGEND_X[i] + 35} y={732} text={n} size={15} scale={1.2} ls={1} />
        </React.Fragment>
      ))}
      <Hamburger x={994} y={519} w={80} gap={6} />

      <Box x={36} y={767} w={786} h={44} />
      {DET_NAMES.map((n, i) => (
        <React.Fragment key={n}>
          <Swatch x={INC_LEGEND_COLS[i % 8]} y={780 + Math.floor(i / 8) * 12.5} color={DET_COLORS[i]} w={28} h={9} />
          <LText x={INC_LEGEND_COLS[i % 8] + 34} y={780 + Math.floor(i / 8) * 12.5} text={n} size={12} scale={1.5} ls={1.2} />
        </React.Fragment>
      ))}
      <Hamburger x={984} y={776} w={79} gap={4.3} />

      <Box x={48} y={1016} w={204} h={114} />
      {DET_NAMES.map((n, i) => (
        <React.Fragment key={n}>
          <Swatch x={i % 2 === 0 ? 56 : 156} y={1023.5 + Math.floor(i / 2) * 12.5} color={DET_COLORS[i]} w={28} h={9} />
          <LText x={i % 2 === 0 ? 92 : 192} y={1023.5 + Math.floor(i / 2) * 12.5} text={n} size={12} scale={1.5} ls={2} />
        </React.Fragment>
      ))}
      <Hamburger x={984} y={1019} w={79} gap={5} />
    </div>
  );
}
